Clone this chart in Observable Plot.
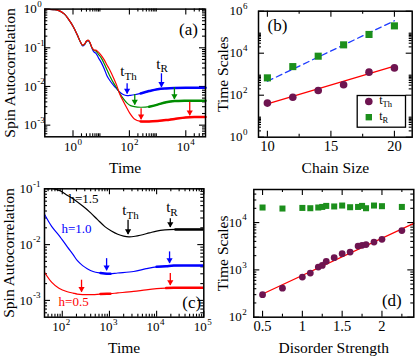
<!DOCTYPE html>
<html><head><meta charset="utf-8">
<script src="https://cdn.jsdelivr.net/npm/d3@7"></script>
<script src="https://cdn.jsdelivr.net/npm/@observablehq/plot@0.6"></script>
<style>
body{margin:0;background:#fff}
#fig{position:relative;width:415px;height:357px;overflow:hidden;background:#fff}
#fig > svg{position:absolute}
</style></head><body><div id="fig"></div>
<script>
// ---------- Panel (a): spin autocorrelation vs time (three chain sizes)
const aTime  = [0.1,0.2,0.3,0.5,0.7,1,1.4,1.8,2.2,2.6,3,3.5,4,4.7,5.5,6.5,8,10,13,16,20,28,35,45,60,83,110,150,250,500,1000,2000,4000,1e4,2e4,5e4];
const aBlue  = [0.99,0.97,0.93,0.74,0.54,0.36,0.22,0.145,0.112,0.122,0.146,0.153,0.132,0.098,0.078,0.072,0.055,0.042,0.028,0.019,0.0145,0.0105,0.0088,0.0072,0.0062,0.0058,0.0059,0.0061,0.0066,0.0076,0.0085,0.0089,0.0091,0.0092,0.0092,0.0092];
const aGreen = [0.99,0.97,0.93,0.74,0.54,0.36,0.22,0.145,0.115,0.125,0.148,0.155,0.135,0.1,0.086,0.083,0.068,0.055,0.038,0.027,0.019,0.012,0.0093,0.0068,0.0049,0.0037,0.0032,0.003,0.0029,0.003,0.0034,0.0039,0.0042,0.0043,0.0043,0.0043];
const aRed   = [0.99,0.97,0.93,0.74,0.54,0.36,0.22,0.145,0.117,0.127,0.15,0.157,0.137,0.102,0.088,0.087,0.077,0.064,0.048,0.036,0.027,0.016,0.011,0.0065,0.0042,0.0027,0.0019,0.00145,0.00125,0.00124,0.00128,0.00135,0.00145,0.00158,0.00162,0.00162];
const aNoiseStart = {blue: 250, green: 500, red: 250};
const aArrowBlueT = [83, 1370],   aArrowBlueFrom = [0.0117, 0.0213],   aArrowBlueTo = [0.0064, 0.0095];
const aArrowGreenT = [155, 3950], aArrowGreenFrom = [0.0062, 0.0093],  aArrowGreenTo = [0.0033, 0.0046];
const aArrowRedT = [260, 13800],  aArrowRedFrom = [0.00265, 0.0039],   aArrowRedTo = [0.00138, 0.00175];
const aLabelT = [67, 1260], aLabelC = [0.0248, 0.0386], aLabelSub = ["Th", "R"];
const aXTicks = [1, 1e2, 1e4], aXExp = ["0", "2", "4"];
const aYTicks = [1, 1e-1, 1e-2, 1e-3], aYExp = ["0", "-1", "-2", "-3"];

// ---------- Panel (b): time scales vs chain size
const chainSize = [10, 12, 14, 16, 18, 20];
const bTth = [42, 80, 167, 315, 1250, 2000];
const bTR  = [670, 2300, 7200, 25000, 78000, 200000];
const bFitL = [10, 20], bFitTh = [39, 2400], bFitR = [460, 350000];
const bXTicks = [10, 15, 20], bXMinor = [12.5, 17.5];
const bYTicks = [1, 1e2, 1e4, 1e6], bYExp = ["0", "2", "4", "6"];

// ---------- Panel (c): spin autocorrelation vs time for h
const cTimeBlack = [42,60,90,130,190,280,400,560,800,1100,1500,2000,2600,3500,4500,7000,1e4,1.5e4,2.5e4,1e5];
const cBlack = [0.11,0.102,0.092,0.076,0.062,0.048,0.037,0.028,0.021,0.0175,0.0153,0.0142,0.0138,0.0141,0.0147,0.0162,0.0175,0.0183,0.0187,0.0187];
const cTime = [42,60,85,128,170,207,270,338,450,645,890,1050,1500,3250,6000,1e4,1.6e4,2.3e4,1e5];
const cBlue = [0.035,0.021,0.0147,0.0091,0.0066,0.0052,0.0042,0.0037,0.0033,0.0031,0.003,0.003,0.0031,0.0033,0.0037,0.004,0.0041,0.0042,0.0042];
const cRed  = [0.0032,0.0021,0.00165,0.00143,0.00135,0.0013,0.00127,0.00127,0.00127,0.0013,0.00131,0.00132,0.00136,0.00145,0.00155,0.00162,0.00166,0.00168,0.00168];
const cNoiseBlack = [[2.5e4, 1e5]], cNoiseBlue = [[645, 1050], [1e4, 1e5]], cNoiseRed = [[645, 1050], [1.6e4, 1e5]];
const cArrowBlackT = [2480, 19500], cArrowBlackFrom = [0.0272, 0.0291], cArrowBlackTo = [0.0151, 0.0203];
const cArrowBlueT = [870, 18800],   cArrowBlueFrom = [0.0056, 0.0074],  cArrowBlueTo = [0.0034, 0.0046];
const cArrowRedT = [256, 19500],    cArrowRedFrom = [0.0023, 0.00303],  cArrowRedTo = [0.0014, 0.00185];
const cHText = ["h=1.5", "h=1.0", "h=0.5"], cHT = [282, 200, 174], cHC = [0.066, 0.0195, 0.00094];
const cLabelT = [2290, 19500], cLabelC = [0.041, 0.047], cLabelSub = ["Th", "R"];
const cXTicks = [1e2, 1e3, 1e4, 1e5], cXExp = ["2", "3", "4", "5"];
const cYTicks = [1e-1, 1e-2, 1e-3], cYExp = ["-1", "-2", "-3"];

// ---------- Panel (d): time scales vs disorder strength
const disorder = [0.5,0.75,1.0,1.1,1.2,1.25,1.3,1.4,1.5,1.6,1.7,1.75,1.8,1.9,2.0,2.25];
const dTth = [299,411,705,855,1145,1245,1514,1811,2200,2380,3190,3300,3420,3880,4430,6760];
const dTR  = [20800,19800,20400,20100,20800,21400,22500,21900,22900,21100,21400,22500,20100,22900,22200,21400];
const dFitW = [0.5, 2.4], dFitT = [310, 9600];
const dXTicks = [0.5, 1, 1.5, 2], dXLabels = ["0.5", "1", "1.5", "2"], dXMinor = [0.75, 1.25, 1.75, 2.25];
const dYTicks = [1e2, 1e3, 1e4], dYExp = ["2", "3", "4"];

// ---------- styling helpers
const FONT = "'Liberation Serif','Times New Roman',Times,serif";
const BLUE = "#0000ff", GREEN = "#008c00", RED = "#ff0000", PURPLE = "#6e1450", SQGREEN = "#1c8f1c";
const TITLE = 15.5;
const fig = document.getElementById("fig");

function logMinor(decades, lo, hi) {
  const out = [];
  for (const d of decades) for (let k = 2; k <= 9; k++) { const v = k * d; if (v > lo && v < hi) out.push(v); }
  return out;
}
function tickMarks(w, h, xMaj, xMin, yMaj, yMin) {
  const M = 6, m = 3, s = {stroke: "#000", strokeWidth: 1.1};
  return [
    Plot.tickX(xMaj, {x: d => d, insetTop: h - M, ...s}),
    Plot.tickX(xMaj, {x: d => d, insetBottom: h - M, ...s}),
    Plot.tickX(xMin, {x: d => d, insetTop: h - m, ...s}),
    Plot.tickX(xMin, {x: d => d, insetBottom: h - m, ...s}),
    Plot.tickY(yMaj, {y: d => d, insetRight: w - M, ...s}),
    Plot.tickY(yMaj, {y: d => d, insetLeft: w - M, ...s}),
    Plot.tickY(yMin, {y: d => d, insetRight: w - m, ...s}),
    Plot.tickY(yMin, {y: d => d, insetLeft: w - m, ...s})
  ];
}
function logYLabels(ticks, exps, gap) {
  return [
    Plot.text(ticks, {y: d => d, text: () => "10", frameAnchor: "left", textAnchor: "end", dx: -gap, fontSize: 13}),
    Plot.text(ticks, {y: d => d, text: (d, i) => exps[i], frameAnchor: "left", textAnchor: "start", dx: -gap + 0.5, dy: -5, fontSize: 9})
  ];
}
function logXLabels(ticks, exps, off) {
  return [
    Plot.text(ticks, {x: d => d, text: () => "10", frameAnchor: "bottom", textAnchor: "end", dx: off, dy: 14, fontSize: 13}),
    Plot.text(ticks, {x: d => d, text: (d, i) => exps[i], frameAnchor: "bottom", textAnchor: "start", dx: off + 0.5, dy: 8, fontSize: 9})
  ];
}
function arrows(ts, from, to, color) {
  const idx = ts.map((_, i) => i);
  return [
    Plot.ruleX(idx, {x: i => ts[i], y1: i => from[i], y2: i => to[i], stroke: color, strokeWidth: 1.3}),
    Plot.dot(idx, {x: i => ts[i], y: i => to[i], symbol: "triangle", r: 2.3, rotate: 180, fill: color, dy: -3.5})
  ];
}
function subLabels(ts, cs, subs, color, size, subSize) {
  const idx = ts.map((_, i) => i);
  return [
    Plot.text(idx, {x: i => ts[i], y: i => cs[i], text: () => "t", textAnchor: "end", fill: color, fontSize: size}),
    Plot.text(idx, {x: i => ts[i], y: i => cs[i], text: i => subs[i], textAnchor: "start", dy: 5, fill: color, fontSize: subSize})
  ];
}
function curve(ts, cs, color, noise, clip) {
  const rows = ts.map((t, i) => ({t, c: cs[i]}));
  const marks = [Plot.line(rows, {x: "t", y: "c", stroke: color, strokeWidth: 1.2, curve: "catmull-rom", clip})];
  for (const [a, b] of noise) {
    marks.push(Plot.line(rows.filter(r => r.t >= a && r.t <= b), {x: "t", y: "c", stroke: color, strokeWidth: 2.5, curve: "catmull-rom", clip}));
  }
  return marks;
}
function label(text, frameAnchor, dx, dy, fontSize, extra = {}) {
  return Plot.text([0], {text: () => text, frameAnchor, dx, dy, fontSize, textAnchor: "middle", lineAnchor: "middle", ...extra});
}
function panel(o) {
  const w = o.width - o.mL - o.mR, h = o.height - o.mT - o.mB;
  const svg = Plot.plot({
    width: o.width, height: o.height,
    marginLeft: o.mL, marginRight: o.mR, marginTop: o.mT, marginBottom: o.mB,
    x: {...o.x, axis: null}, y: {...o.y, axis: null},
    style: {fontFamily: FONT, background: "transparent", overflow: "visible", color: "#000"},
    marks: [...o.marks(w, h), Plot.frame({stroke: "#000", strokeWidth: 1.5})]
  });
  svg.style.left = o.left + "px"; svg.style.top = o.top + "px";
  fig.appendChild(svg);
}

// ---------- (a)
panel({
  left: 0, top: 0, width: 208, height: 178, mL: 44.3, mR: 3, mT: 8.6, mB: 41.7,
  x: {type: "log", domain: [0.1, 5e4]}, y: {type: "log", domain: [5e-4, 1]},
  marks: (w, h) => [
    ...tickMarks(w, h, aXTicks, logMinor([1, 1e2, 1e4], 0.1, 5e4), aYTicks, logMinor([1e-4, 1e-3, 1e-2, 1e-1], 5e-4, 1)),
    ...curve(aTime, aBlue, BLUE, [[aNoiseStart.blue, 5e4]]),
    ...curve(aTime, aGreen, GREEN, [[aNoiseStart.green, 5e4]]),
    ...curve(aTime, aRed, RED, [[aNoiseStart.red, 5e4]]),
    ...arrows(aArrowBlueT, aArrowBlueFrom, aArrowBlueTo, BLUE),
    ...arrows(aArrowGreenT, aArrowGreenFrom, aArrowGreenTo, GREEN),
    ...arrows(aArrowRedT, aArrowRedFrom, aArrowRedTo, RED),
    ...subLabels(aLabelT, aLabelC, aLabelSub, "#000", 15, 11),
    ...logXLabels(aXTicks, aXExp, 4),
    ...logYLabels(aYTicks, aYExp, 8),
    label("(a)", "top-right", -17, 20, 17),
    label("Time", "bottom", 0, 31, TITLE),
    label("Spin Autocorrelation", "left", -35, 0, TITLE, {rotate: -90})
  ]
});

// ---------- (b)
panel({
  left: 208, top: 0, width: 207, height: 178, mL: 50, mR: 3.3, mT: 10.7, mB: 41.3,
  x: {domain: [9.3, 21.4]}, y: {type: "log", domain: [1, 1e6]},
  marks: (w, h) => [
    ...tickMarks(w, h, bXTicks, bXMinor, bYTicks, logMinor([1, 1e2, 1e4], 1, 1e6)),
    Plot.line(bFitL.map((x, i) => ({x, y: bFitR[i]})), {x: "x", y: "y", stroke: "#1f3cff", strokeWidth: 1.3, strokeDasharray: "6,4"}),
    Plot.line(bFitL.map((x, i) => ({x, y: bFitTh[i]})), {x: "x", y: "y", stroke: RED, strokeWidth: 1.3}),
    Plot.dot(chainSize, {x: d => d, y: (d, i) => bTR[i], symbol: "square", r: 4, fill: SQGREEN}),
    Plot.dot(chainSize, {x: d => d, y: (d, i) => bTth[i], r: 3.8, fill: PURPLE}),
    Plot.text(bXTicks, {x: d => d, text: d => String(d), frameAnchor: "bottom", textAnchor: "middle", dy: 14, fontSize: 14.5}),
    ...logYLabels(bYTicks, bYExp, 16),
    Plot.frame({insetLeft: 98.7, insetRight: 6.7, insetTop: 84.3, insetBottom: 10, stroke: "#000", strokeWidth: 1.3}),
    Plot.dot([0], {frameAnchor: "top-left", dx: 110.3, dy: 90.3, r: 3.8, fill: PURPLE}),
    Plot.dot([0], {frameAnchor: "top-left", dx: 110.3, dy: 106, symbol: "square", r: 3.6, fill: SQGREEN}),
    Plot.text([0], {frameAnchor: "top-left", dx: 124, dy: 89, text: () => "t", textAnchor: "end", lineAnchor: "middle", fontSize: 12}),
    Plot.text([0], {frameAnchor: "top-left", dx: 124, dy: 93, text: () => "Th", textAnchor: "start", lineAnchor: "middle", fontSize: 8.5}),
    Plot.text([0], {frameAnchor: "top-left", dx: 124, dy: 105, text: () => "t", textAnchor: "end", lineAnchor: "middle", fontSize: 12}),
    Plot.text([0], {frameAnchor: "top-left", dx: 124, dy: 109, text: () => "R", textAnchor: "start", lineAnchor: "middle", fontSize: 8.5}),
    label("(b)", "top-left", 19, 14.5, 17),
    label("Chain Size", "bottom", 0, 31, TITLE),
    label("Time Scales", "left", -35, 0, TITLE, {rotate: -90})
  ]
});

// ---------- (c)
panel({
  left: 0, top: 178, width: 208, height: 179, mL: 44, mR: 4.7, mT: 10.3, mB: 40.3,
  x: {type: "log", domain: [42, 1e5]}, y: {type: "log", domain: [5e-4, 0.1]},
  marks: (w, h) => [
    ...tickMarks(w, h, cXTicks, logMinor([10, 1e2, 1e3, 1e4], 42, 1e5), cYTicks, logMinor([1e-4, 1e-3, 1e-2], 5e-4, 0.1)),
    ...curve(cTimeBlack, cBlack, "#000", cNoiseBlack, true),
    ...curve(cTime, cBlue, BLUE, cNoiseBlue, true),
    ...curve(cTime, cRed, RED, cNoiseRed, true),
    ...arrows(cArrowBlackT, cArrowBlackFrom, cArrowBlackTo, "#000"),
    ...arrows(cArrowBlueT, cArrowBlueFrom, cArrowBlueTo, BLUE),
    ...arrows(cArrowRedT, cArrowRedFrom, cArrowRedTo, RED),
    Plot.text(cHText, {x: (d, i) => cHT[i], y: (d, i) => cHC[i], text: d => d, fill: (d, i) => ["#000", BLUE, RED][i], fontSize: 13}),
    ...subLabels(cLabelT, cLabelC, cLabelSub, "#000", 15, 11),
    ...logXLabels(cXTicks, cXExp, 3),
    ...logYLabels(cYTicks, cYExp, 12),
    label("(c)", "bottom-right", -12, -15, 17),
    label("Time", "bottom", 0, 31, TITLE),
    label("Spin Autocorrelation", "left", -35, 0, TITLE, {rotate: -90})
  ]
});

// ---------- (d)
panel({
  left: 208, top: 178, width: 207, height: 179, mL: 45.3, mR: 1.7, mT: 11, mB: 40.3,
  x: {domain: [0.39, 2.4]}, y: {type: "log", domain: [100, 5e4]},
  marks: (w, h) => [
    ...tickMarks(w, h, dXTicks, dXMinor, dYTicks, logMinor([1e2, 1e3, 1e4], 100, 5e4)),
    Plot.line(dFitW.map((x, i) => ({x, y: dFitT[i]})), {x: "x", y: "y", stroke: RED, strokeWidth: 1.2}),
    Plot.dot(disorder, {x: d => d, y: (d, i) => dTR[i], symbol: "square", r: 3.4, fill: SQGREEN}),
    Plot.dot(disorder, {x: d => d, y: (d, i) => dTth[i], r: 3.4, fill: PURPLE}),
    Plot.text(dXTicks, {x: d => d, text: (d, i) => dXLabels[i], frameAnchor: "bottom", textAnchor: "middle", dy: 14, fontSize: 14.5}),
    ...logYLabels(dYTicks, dYExp, 12),
    label("(d)", "bottom-right", -22, -17, 17),
    label("Disorder Strength", "bottom", 0, 31, TITLE),
    label("Time Scales", "left", -31, 0, TITLE, {rotate: -90})
  ]
});
</script></body></html>
